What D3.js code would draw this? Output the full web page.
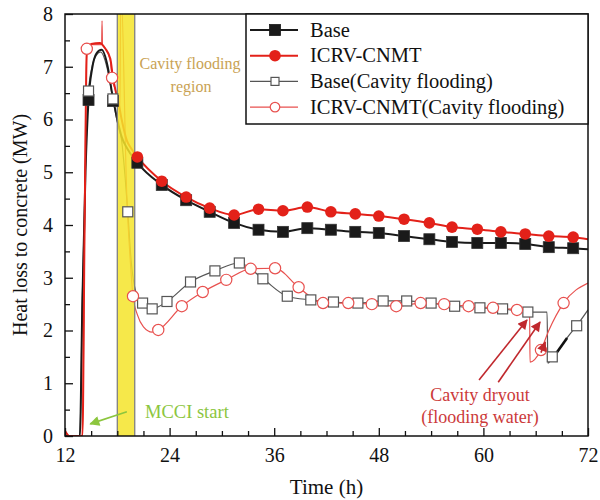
<!DOCTYPE html>
<html><head><meta charset="utf-8">
<script src="https://cdn.jsdelivr.net/npm/d3@7/dist/d3.min.js"></script>
<style>
body{margin:0;background:#fff;}
text{font-family:"Liberation Serif","DejaVu Serif",serif;}
</style></head>
<body><svg id="c" width="600" height="500"></svg>
<script>
// ---------- data ----------
const xTicks = [12, 24, 36, 48, 60, 72];
const yTicks = [0, 1, 2, 3, 4, 5, 6, 7, 8];
const seriesNames = ["Base", "ICRV-CNMT", "Base(Cavity flooding)", "ICRV-CNMT(Cavity flooding)"];
const floodBand = [18, 20];

const baseLine = [[12,0],[13.7,0],[14.0,2.6],[14.35,5.0],[14.7,6.37],[15.1,6.95],[15.6,7.25],[16.2,7.32],[16.9,7.0],[17.4,6.5],[18.0,6.0],[18.5,5.67],[19.1,5.46],[20.3,5.18],[23.1,4.76],[25.9,4.47],[28.6,4.25],[31.4,4.04],[34.2,3.91],[37.0,3.87],[39.8,3.94],[42.5,3.91],[45.3,3.87],[48.0,3.85],[50.9,3.79],[53.8,3.73],[56.4,3.68],[59.3,3.66],[62.0,3.66],[64.8,3.64],[67.5,3.58],[70.3,3.56],[72,3.54]];
const baseMarkers = [[14.7,6.37],[17.5,6.35],[20.3,5.18],[23.1,4.76],[25.9,4.47],[28.6,4.25],[31.4,4.04],[34.2,3.91],[37.0,3.87],[39.8,3.94],[42.5,3.91],[45.3,3.87],[48.0,3.85],[50.9,3.79],[53.8,3.73],[56.4,3.68],[59.3,3.66],[62.0,3.66],[64.8,3.64],[67.5,3.58],[70.3,3.56]];

const icrvLine = [[12,0.1],[12.5,0],[14.0,0],[14.25,4.0],[14.5,7.25],[15.0,7.43],[16.0,7.45],[16.6,7.35],[17.2,7.15],[17.5,6.8],[17.8,6.55],[18.1,6.35],[18.5,6.0],[19.1,5.6],[19.6,5.45],[20.3,5.29],[23.1,4.83],[25.9,4.53],[28.6,4.32],[31.4,4.19],[34.2,4.30],[37.0,4.27],[39.8,4.34],[42.5,4.25],[45.3,4.21],[48.0,4.17],[50.9,4.11],[53.8,4.04],[56.4,3.96],[59.3,3.92],[62.0,3.87],[64.8,3.83],[67.5,3.79],[70.3,3.77],[72,3.73]];
const icrvMarkers = [[14.5,7.34],[17.4,6.79],[20.3,5.29],[23.1,4.83],[25.9,4.53],[28.6,4.32],[31.4,4.19],[34.2,4.30],[37.0,4.27],[39.8,4.34],[42.5,4.25],[45.3,4.21],[48.0,4.17],[50.9,4.11],[53.8,4.04],[56.4,3.96],[59.3,3.92],[62.0,3.87],[64.8,3.83],[67.5,3.79],[70.3,3.77]];

const baseFloodLine = [[12,0],[13.7,0],[14.0,2.7],[14.35,5.1],[14.7,6.54],[15.1,7.0],[15.6,7.22],[16.1,7.28],[16.8,7.0],[17.5,6.39],[18.0,5.95],[18.5,5.6],[18.9,4.9],[19.2,4.25],[19.6,3.3],[20.1,2.75],[20.9,2.52],[22.0,2.41],[23.7,2.55],[26.4,2.92],[29.2,3.13],[32.0,3.28],[34.7,2.98],[37.5,2.65],[40.2,2.58],[42.8,2.54],[45.6,2.52],[48.5,2.56],[51.2,2.56],[54.0,2.52],[56.7,2.46],[59.6,2.43],[62.2,2.41],[65.1,2.35],[67.3,2.35],[67.4,1.38],[67.9,1.50],[68.5,1.60],[69.6,1.86],[70.7,2.09],[72,2.39]];
const baseFloodBold = [[68.4,1.58],[69.6,1.86]];
const baseFloodMarkers = [[14.7,6.54],[17.5,6.39],[19.2,4.25],[20.9,2.52],[22.0,2.41],[23.7,2.55],[26.4,2.92],[29.2,3.13],[32.0,3.28],[34.7,2.98],[37.5,2.65],[40.2,2.58],[42.8,2.54],[45.6,2.52],[48.5,2.56],[51.2,2.56],[54.0,2.52],[56.7,2.46],[59.6,2.43],[62.2,2.41],[65.1,2.35],[67.9,1.50],[70.7,2.09]];

const icrvFloodLine = [[12,0.1],[12.5,0],[14.0,0],[14.25,4.0],[14.5,7.3],[15.0,7.42],[16.2,7.42],[16.25,7.87],[16.3,7.42],[16.6,7.35],[17.2,7.12],[17.4,6.79],[17.8,6.55],[18.3,6.2],[18.4,8.6],[19.1,4.5],[19.5,3.3],[19.8,2.65],[20.3,2.3],[21.0,2.07],[22.0,1.97],[22.7,2.01],[25.4,2.46],[27.8,2.73],[30.5,2.96],[33.3,3.17],[36.1,3.18],[38.8,2.82],[41.6,2.52],[44.5,2.52],[47.2,2.50],[50.0,2.46],[52.8,2.52],[55.5,2.50],[58.3,2.46],[61.1,2.43],[63.85,2.39],[65.3,2.35],[65.35,1.40],[66.6,1.63],[67.5,2.0],[69.2,2.52],[72,2.9]];
const icrvFloodMarkers = [[14.5,7.34],[17.4,6.79],[19.8,2.65],[22.7,2.01],[25.4,2.46],[27.8,2.73],[30.5,2.96],[33.3,3.17],[36.1,3.18],[38.8,2.82],[41.6,2.52],[44.5,2.52],[47.2,2.50],[50.0,2.46],[52.8,2.52],[55.5,2.50],[58.3,2.46],[61.1,2.43],[63.85,2.39],[66.6,1.63],[69.2,2.52]];

// annotations (data coordinates)
const mcciArrow = [[19.1,0.46],[14.9,0.23]];
const dryoutArrows = [[[59.5,1.06],[65.0,2.2]], [[61.7,1.02],[66.5,2.16]], [[66.6,1.58],[67.1,1.78]]];

// ---------- layout ----------
const W = 600, H = 500;
const m = {l:65, r:12, t:14, b:64};
const svg = d3.select("#c");
const x = d3.scaleLinear().domain([12,72]).range([m.l, W-m.r]);
const y = d3.scaleLinear().domain([0,8]).range([H-m.b, m.t]);

const defs = svg.append("defs");
defs.append("clipPath").attr("id","clip").append("rect")
  .attr("x",m.l).attr("y",m.t).attr("width",W-m.l-m.r).attr("height",H-m.t-m.b);
function arrowHead(id,color,w,h){
  defs.append("marker").attr("id",id).attr("viewBox","0 0 10 10").attr("refX",9).attr("refY",5)
    .attr("markerWidth",w).attr("markerHeight",h).attr("orient","auto").attr("markerUnits","userSpaceOnUse")
    .append("path").attr("d","M0,0 L10,5 L0,10 Z").attr("fill",color);
}
arrowHead("ag","#8cc63e",13,10);
arrowHead("ar","#c0282d",14,10);

const line = d3.line().x(d=>x(d[0])).y(d=>y(d[1])).curve(d3.curveMonotoneX);
const plot = svg.append("g").attr("clip-path","url(#clip)");

plot.append("path").datum(baseFloodLine).attr("d",line).attr("fill","none").attr("stroke","#555").attr("stroke-width",1.2);
plot.append("path").datum(baseFloodBold).attr("d",d3.line().x(d=>x(d[0])).y(d=>y(d[1]))).attr("fill","none").attr("stroke","#111").attr("stroke-width",2.6);
plot.append("path").datum(icrvFloodLine).attr("d",line).attr("fill","none").attr("stroke","#e8514f").attr("stroke-width",1.2);
plot.append("path").datum(baseLine).attr("d",line).attr("fill","none").attr("stroke","#1a1a1a").attr("stroke-width",2);
plot.append("path").datum(icrvLine).attr("d",line).attr("fill","none").attr("stroke","#e32119").attr("stroke-width",2);

// flooding band
plot.append("rect").attr("x",x(floodBand[0])).attr("y",m.t).attr("width",x(floodBand[1])-x(floodBand[0])).attr("height",H-m.t-m.b)
  .attr("fill","#f5e42a").attr("fill-opacity",0.85);
floodBand.forEach(v=>plot.append("line").attr("x1",x(v)).attr("x2",x(v)).attr("y1",m.t).attr("y2",H-m.b).attr("stroke","#808080").attr("stroke-width",1.3));

// markers
const bs=11, os=10;
plot.selectAll(".bm").data(baseMarkers).join("rect").attr("x",d=>x(d[0])-bs/2).attr("y",d=>y(d[1])-bs/2).attr("width",bs).attr("height",bs)
  .attr("fill","#1a1a1a").attr("stroke","#333").attr("stroke-width",0.8);
plot.selectAll(".im").data(icrvMarkers).join("circle").attr("cx",d=>x(d[0])).attr("cy",d=>y(d[1])).attr("r",5.8).attr("fill","#e32119");
plot.selectAll(".bfm").data(baseFloodMarkers).join("rect").attr("x",d=>x(d[0])-os/2).attr("y",d=>y(d[1])-os/2).attr("width",os).attr("height",os)
  .attr("fill","#fff").attr("stroke","#555").attr("stroke-width",1.2);
plot.selectAll(".ifm").data(icrvFloodMarkers).join("circle").attr("cx",d=>x(d[0])).attr("cy",d=>y(d[1])).attr("r",5.6)
  .attr("fill","#fff").attr("stroke","#e8514f").attr("stroke-width",1.2);

// axes
const xAxis = d3.axisBottom(x).tickValues(xTicks).tickSizeInner(-8).tickSizeOuter(0).tickPadding(12);
const xMinor = d3.axisBottom(x).tickValues(d3.range(12,72,3).filter(v=>!xTicks.includes(v))).tickSizeInner(-5).tickSizeOuter(0).tickFormat("");
const yAxis = d3.axisLeft(y).tickValues(yTicks).tickSizeInner(-8).tickSizeOuter(0).tickPadding(12);
const yMinor = d3.axisLeft(y).tickValues(d3.range(0.5,8,1)).tickSizeInner(-5).tickSizeOuter(0).tickFormat("");
function styleAxis(g){ g.select(".domain").remove(); g.selectAll("line").attr("stroke","#111").attr("stroke-width",1.3);
  g.selectAll("text").attr("font-family","Liberation Serif").attr("font-size",20).attr("fill","#111"); }
svg.append("g").attr("transform",`translate(0,${H-m.b})`).call(xAxis).call(styleAxis);
svg.append("g").attr("transform",`translate(0,${H-m.b})`).call(xMinor).call(styleAxis);
svg.append("g").attr("transform",`translate(${m.l},0)`).call(yAxis).call(styleAxis);
svg.append("g").attr("transform",`translate(${m.l},0)`).call(yMinor).call(styleAxis);

// frame
svg.append("rect").attr("x",m.l).attr("y",m.t).attr("width",W-m.l-m.r).attr("height",H-m.t-m.b).attr("fill","none").attr("stroke","#111").attr("stroke-width",1.5);

// axis titles
svg.append("text").attr("x",(m.l+W-m.r)/2).attr("y",494).attr("text-anchor","middle").attr("font-size",21).attr("fill","#111").text("Time (h)");
svg.append("text").attr("transform",`translate(27,${(m.t+H-m.b)/2}) rotate(-90)`).attr("text-anchor","middle").attr("font-size",20).attr("fill","#111").text("Heat loss to concrete (MW)");

// annotations
svg.append("text").attr("x",190).attr("y",69).attr("text-anchor","middle").attr("font-size",16).attr("fill","#c9a253").text("Cavity flooding");
svg.append("text").attr("x",191).attr("y",92).attr("text-anchor","middle").attr("font-size",16).attr("fill","#c9a253").text("region");
svg.append("text").attr("x",145).attr("y",418).attr("font-size",18.5).attr("fill","#8cc63e").text("MCCI start");
svg.append("line").attr("x1",x(mcciArrow[0][0])).attr("y1",y(mcciArrow[0][1])).attr("x2",x(mcciArrow[1][0])).attr("y2",y(mcciArrow[1][1]))
  .attr("stroke","#8cc63e").attr("stroke-width",1.6).attr("marker-end","url(#ag)");
dryoutArrows.forEach(a=>svg.append("line").attr("x1",x(a[0][0])).attr("y1",y(a[0][1])).attr("x2",x(a[1][0])).attr("y2",y(a[1][1]))
  .attr("stroke","#c0282d").attr("stroke-width",1.6).attr("marker-end","url(#ar)"));
svg.append("text").attr("x",480).attr("y",401).attr("text-anchor","middle").attr("font-size",18).attr("fill","#cc3a3a").text("Cavity dryout");
svg.append("text").attr("x",480).attr("y",423).attr("text-anchor","middle").attr("font-size",18).attr("fill","#cc3a3a").text("(flooding water)");

// legend
const lg = svg.append("g");
lg.append("rect").attr("x",246).attr("y",m.t).attr("width",W-m.r-246).attr("height",110).attr("fill","#fff").attr("stroke","#111").attr("stroke-width",1.5);
const lstyle = [
  {c:"#1a1a1a", w:2, mk:"sq", fill:"#1a1a1a"},
  {c:"#e32119", w:2, mk:"ci", fill:"#e32119"},
  {c:"#555", w:1.2, mk:"sq", fill:"#fff"},
  {c:"#e8514f", w:1.2, mk:"ci", fill:"#fff"}];
seriesNames.forEach((nm,i)=>{
  const cy = 30 + i*25.7;
  lg.append("line").attr("x1",250).attr("x2",298).attr("y1",cy).attr("y2",cy).attr("stroke",lstyle[i].c).attr("stroke-width",lstyle[i].w);
  const s = lstyle[i];
  if(s.mk==="sq"){ const z = i===0?11:8; lg.append("rect").attr("x",275-z/2).attr("y",cy-z/2).attr("width",z).attr("height",z).attr("fill",s.fill).attr("stroke",s.c).attr("stroke-width",i===0?0.8:1.2); }
  else { lg.append("circle").attr("cx",275).attr("cy",cy).attr("r",i===1?5.8:4.8).attr("fill",s.fill).attr("stroke",s.c).attr("stroke-width",i===1?0:1.2); }
  lg.append("text").attr("x",310).attr("y",cy+6.5).attr("font-size",20.5).attr("fill","#111").text(nm);
});
</script></body></html>
